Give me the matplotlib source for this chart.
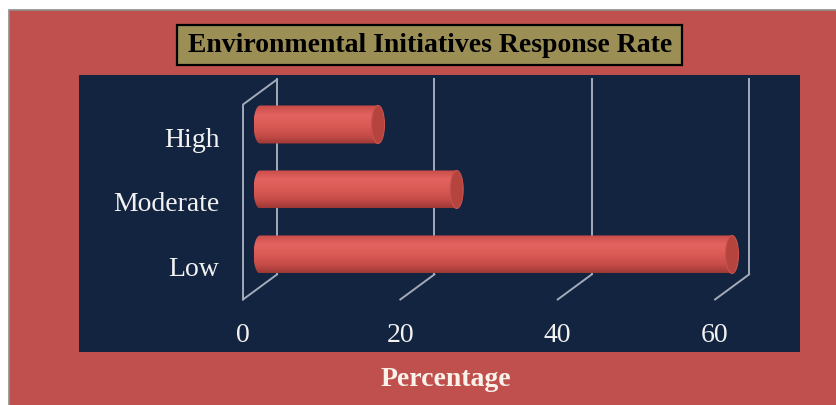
import numpy as np
import matplotlib
matplotlib.use('Agg')
import matplotlib.pyplot as plt
from matplotlib.patches import Rectangle, Ellipse, Polygon
from matplotlib.colors import LinearSegmentedColormap

categories = ['Low', 'Moderate', 'High']
values = [60, 25, 15]
x_ticks = [0, 20, 40, 60]
title = 'Environmental Initiatives Response Rate'
x_label = 'Percentage'

plt.rcParams['font.family'] = ['Liberation Serif', 'DejaVu Serif']

red = '#C0504D'
navy = '#12243F'
olive = '#9C8F56'
grid_col = '#A3AABA'

fig = plt.figure(figsize=(8.37, 4.05), dpi=100, facecolor='white')

# outer red frame with grey edge
fig.patches.append(Rectangle((9 / 837, -0.01), 1.0, (405 - 10) / 405 + 0.01,
                             transform=fig.transFigure, facecolor=red,
                             edgecolor='#8E8E8E', lw=1.2, zorder=-5))

ax = fig.add_axes([79 / 837, (405 - 352) / 405, (800 - 79) / 837, (352 - 75) / 405])
ax.set_zorder(1)
ax.set_facecolor(navy)
for s in ax.spines.values():
    s.set_visible(False)

# 3d depth offset (data units)
dx, dy = 4.32, 0.385
y_lo, y_hi = -0.5, len(categories) - 0.5

# side wall at 0
ax.plot([0, 0, dx], [y_lo, y_hi, y_hi + dy], color=grid_col, lw=1.4, zorder=1)
# back wall verticals + floor diagonals
for t in x_ticks:
    ax.plot([t + dx, t + dx], [y_lo + dy, y_hi + dy], color=grid_col, lw=1.4, zorder=1)
    ax.plot([t, t + dx], [y_lo, y_lo + dy], color=grid_col, lw=1.4, zorder=1)

# cylinder bars
cmap = LinearSegmentedColormap.from_list('cyl', [
    (0.0, '#C64A46'), (0.25, '#E2635F'), (0.5, '#DB5B57'),
    (0.8, '#C44B47'), (1.0, '#9E3936')])
grad = np.linspace(0, 1, 100).reshape(-1, 1)
bar_h = 0.585
cap_w = 1.65
x0 = dx / 2
for i, v in enumerate(values):
    yc = i + dy / 2
    x1 = x0 + v
    th = np.linspace(np.pi / 2, 3 * np.pi / 2, 40)
    left = np.column_stack([x0 + cap_w / 2 * np.cos(th), yc + bar_h / 2 * np.sin(th)])
    pts = np.vstack([[[x1, yc + bar_h / 2]], left, [[x1, yc - bar_h / 2]]])
    clip = Polygon(pts, closed=True, transform=ax.transData, facecolor='none', edgecolor='none')
    ax.add_patch(clip)
    im = ax.imshow(grad, cmap=cmap, aspect='auto', origin='upper',
                   extent=[x0 - cap_w / 2, x1, yc - bar_h / 2, yc + bar_h / 2], zorder=2)
    im.set_clip_path(clip)
    ax.add_patch(Ellipse((x1, yc), cap_w, bar_h, facecolor='#B5443F',
                         edgecolor='#C9524C', lw=0.8, zorder=3))

# imshow resets limits
ax.set_xlim(-20.85, 70.8)
ax.set_ylim(-1.308, 2.954)

ax.set_xticks(x_ticks)
ax.set_xticklabels([str(t) for t in x_ticks])
ax.set_yticks(range(len(categories)))
ax.set_yticklabels(categories)
ax.tick_params(axis='x', length=0, pad=-21, labelsize=20, labelcolor='#F2F2F2')
ax.tick_params(axis='y', length=0, pad=-101, labelsize=20, labelcolor='#F2F2F2')

# title box
fig.patches.append(Rectangle((177 / 837, 1 - 65 / 405), (682 - 177) / 837, 40 / 405,
                             transform=fig.transFigure, facecolor=olive,
                             edgecolor='black', lw=1.6, zorder=5))
fig.text(430 / 837, 1 - 46 / 405, title, ha='center', va='center',
         fontsize=20, fontweight='bold', color='black', zorder=6)

fig.text(446 / 837, 1 - 379 / 405, x_label, ha='center', va='center',
         fontsize=20, fontweight='bold', color='#FAF2EA')

fig.savefig('out.png', dpi=100, facecolor=fig.get_facecolor())
